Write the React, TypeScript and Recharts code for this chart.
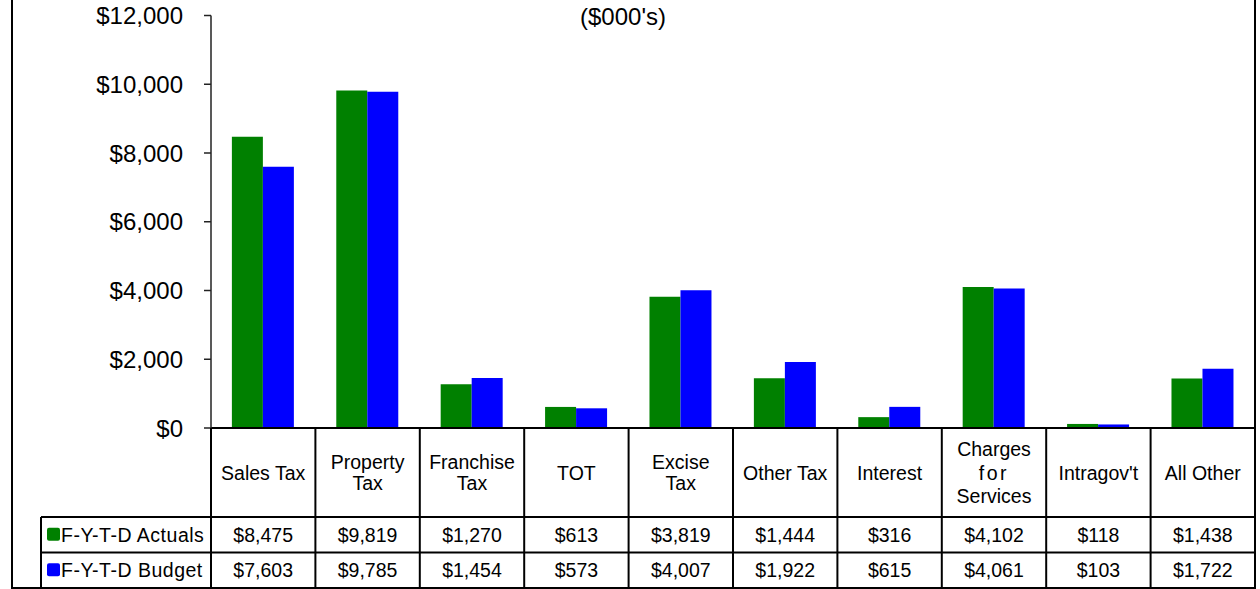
import { BarChart, Bar, XAxis, YAxis } from 'recharts'

const categories = [
  'Sales Tax',
  'Property Tax',
  'Franchise Tax',
  'TOT',
  'Excise Tax',
  'Other Tax',
  'Interest',
  'Charges for Services',
  "Intragov't",
  'All Other',
]
const headerLines = [
  ['Sales Tax'],
  ['Property', 'Tax'],
  ['Franchise', 'Tax'],
  ['TOT'],
  ['Excise', 'Tax'],
  ['Other Tax'],
  ['Interest'],
  ['Charges', 'for', 'Services'],
  ["Intragov't"],
  ['All Other'],
]
const actuals = [8475, 9819, 1270, 613, 3819, 1444, 316, 4102, 118, 1438]
const budget = [7603, 9785, 1454, 573, 4007, 1922, 615, 4061, 103, 1722]
const yTicks = [0, 2000, 4000, 6000, 8000, 10000, 12000]
const seriesNames = ['F-Y-T-D Actuals', 'F-Y-T-D Budget']

const data = categories.map((name, i) => ({ name, actual: actuals[i], budget: budget[i] }))

const GREEN = '#008000'
const BLUE = '#0000ff'
const FONT = '"Liberation Sans", Arial, sans-serif'

const WIDTH = 1260
const HEIGHT = 589
const Y_AXIS_W = 211
const RIGHT = 5
const BAND = (WIDTH - Y_AXIS_W - RIGHT) / categories.length
const TABLE_H = 160
const HEADER_H = 89
const ROW_H = 35.5
const LEGEND_X = 41

const money = (v: number) => '$' + v.toLocaleString('en-US')

// header cells + value rows, drawn per category off the x scale
const TableTick = (props: any) => {
  const { x, y, payload } = props
  const i = payload.index
  const half = BAND / 2
  const lines = headerLines[i]
  const lh = lines.length > 2 ? 23.5 : 21
  const hc = y + HEADER_H / 2
  const r1 = y + HEADER_H
  const r2 = r1 + ROW_H
  const bottom = y + TABLE_H
  return (
    <g fontFamily={FONT} fontSize={19.5} fill="#000">
      <line x1={x + half} y1={y} x2={x + half} y2={bottom} stroke="#000" strokeWidth={2} />
      {i === 0 && (
        <g>
          <line x1={x - half} y1={y} x2={x - half} y2={bottom} stroke="#000" strokeWidth={2} />
          <line x1={LEGEND_X} y1={r1} x2={LEGEND_X} y2={bottom} stroke="#000" strokeWidth={2} />
          <line x1={LEGEND_X} y1={r1} x2={x - half} y2={r1} stroke="#000" strokeWidth={2} />
          <line x1={LEGEND_X} y1={r2} x2={x - half} y2={r2} stroke="#000" strokeWidth={2} />
          {[GREEN, BLUE].map((c, k) => (
            <g key={k}>
              <rect x={47} y={r1 + k * ROW_H + ROW_H / 2 - 7} width={13} height={13} rx={2} fill={c} />
              <text x={61} y={r1 + k * ROW_H + ROW_H / 2} dominantBaseline="central" letterSpacing={0.5}>
                {seriesNames[k]}
              </text>
            </g>
          ))}
        </g>
      )}
      <line x1={x - half} y1={r1} x2={x + half} y2={r1} stroke="#000" strokeWidth={2} />
      <line x1={x - half} y1={r2} x2={x + half} y2={r2} stroke="#000" strokeWidth={2} />
      {lines.map((t, k) => (
        <text
          key={k}
          x={x}
          y={hc + (k - (lines.length - 1) / 2) * lh}
          textAnchor="middle"
          dominantBaseline="central"
          letterSpacing={t === 'for' ? 2.5 : 0}
        >
          {t}
        </text>
      ))}
      <text x={x} y={r1 + ROW_H / 2} textAnchor="middle" dominantBaseline="central">
        {money(actuals[i])}
      </text>
      <text x={x} y={r2 + ROW_H / 2} textAnchor="middle" dominantBaseline="central">
        {money(budget[i])}
      </text>
    </g>
  )
}

export default function App() {
  return (
    <div style={{ position: 'absolute', left: 0, top: 0, width: WIDTH, height: HEIGHT, background: '#fff', overflow: 'hidden' }}>
      <div
        style={{
          position: 'absolute',
          left: 11,
          top: -5,
          width: 1245,
          height: 594,
          border: '2px solid #000',
          borderTop: 'none',
          boxSizing: 'border-box',
        }}
      />
      <div
        style={{
          position: 'absolute',
          left: 523,
          width: 200,
          top: 5,
          textAlign: 'center',
          fontFamily: FONT,
          fontSize: 24,
          lineHeight: '24px',
        }}
      >
        ($000's)
      </div>
      <BarChart
        width={WIDTH}
        height={HEIGHT}
        data={data}
        margin={{ top: 15.5, right: RIGHT, bottom: 0, left: 0 }}
        barCategoryGap="20%"
        barGap={0}
        style={{ position: 'absolute', left: 0, top: 0 }}
      >
        <XAxis
          dataKey="name"
          height={TABLE_H + 1}
          axisLine={{ stroke: '#000', strokeWidth: 2 }}
          tickLine={false}
          tickSize={0}
          tickMargin={0}
          interval={0}
          tick={<TableTick />}
        />
        <YAxis
          width={Y_AXIS_W}
          domain={[0, 12000]}
          ticks={yTicks}
          tickFormatter={money}
          axisLine={{ stroke: '#222', strokeWidth: 1.5 }}
          tickLine={{ stroke: '#222', strokeWidth: 1.5 }}
          tickSize={7}
          tickMargin={21}
          tick={{ fill: '#000', fontSize: 24, fontFamily: FONT }}
          interval={0}
        />
        <Bar dataKey="actual" name={seriesNames[0]} fill={GREEN} isAnimationActive={false} />
        <Bar dataKey="budget" name={seriesNames[1]} fill={BLUE} isAnimationActive={false} />
      </BarChart>
    </div>
  )
}
